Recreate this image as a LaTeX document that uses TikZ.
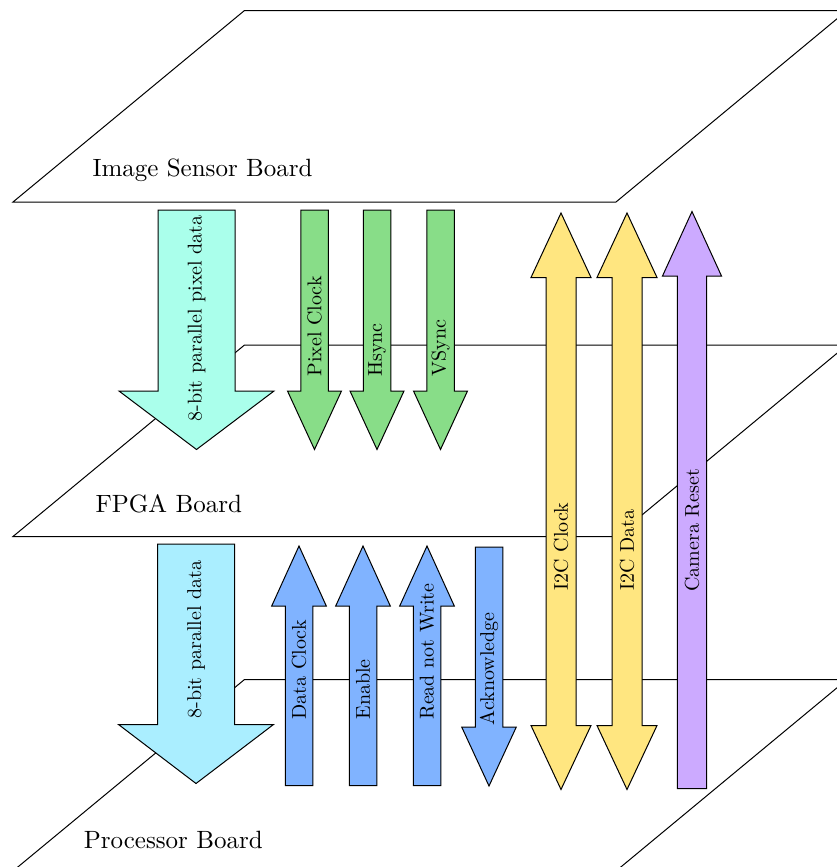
\documentclass[tikz,border=0pt]{standalone}
\usepackage{tikz}
\usetikzlibrary{positioning}

\definecolor{pixcyan}{RGB}{170,255,235}
\definecolor{datcyan}{RGB}{170,238,255}
\definecolor{syncgreen}{RGB}{136,221,136}
\definecolor{busblue}{RGB}{128,179,255}
\definecolor{i2cyellow}{RGB}{255,230,128}
\definecolor{resetpurple}{RGB}{204,170,255}

\tikzstyle{board} = [draw=black, fill=white]
\tikzstyle{boardname} = [anchor=base west, inner sep=0pt]
\tikzstyle{sig} = [draw=black, line join=miter]
\tikzstyle{signame} = [anchor=west, rotate=90, scale=0.8, inner sep=0pt]

% style, x, tail y, head base y, tip y, shaft half width, head half width
\newcommand{\sigarrow}[7]{%
  \draw[sig,#1] ({#2-#6},#3) -- ({#2+#6},#3) -- ({#2+#6},#4) -- ({#2+#7},#4)
    -- (#2,#5) -- ({#2-#7},#4) -- ({#2-#6},#4) -- cycle;}
% style, x, tip y, head base y, head base y, tip y, shaft half width, head half width
\newcommand{\sigboth}[8]{%
  \draw[sig,#1] (#2,#3) -- ({#2+#8},#4) -- ({#2+#7},#4) -- ({#2+#7},#5)
    -- ({#2+#8},#5) -- (#2,#6) -- ({#2-#8},#5) -- ({#2-#7},#5)
    -- ({#2-#7},#4) -- ({#2-#8},#4) -- cycle;}

\begin{document}
\begin{tikzpicture}[x=0.4pt, y=-0.4pt]
\useasboundingbox (0,0) rectangle (837,867);
\clip (0,0) rectangle (837,867);

% the three boards
\draw[board] (13,202) -- (616,202) -- (847,10.5) -- (244.5,10.5) -- cycle;
\draw[board] (13,536.5) -- (616,536.5) -- (847,345) -- (244.5,345) -- cycle;
\draw[board] (13,871) -- (616,871) -- (847,679.5) -- (244.5,679.5) -- cycle;
\node[boardname] (sensor) at (92,176.7) {Image Sensor Board};
\node[boardname] (fpga) at (95,512.3) {FPGA Board};
\node[boardname] (cpu) at (83.3,848.3) {Processor Board};

% sensor -> fpga
\sigarrow{fill=pixcyan}{196.5}{210}{391}{449.5}{38.5}{77.5}
\node[signame] (pixdata) at (196.5,422) {8-bit parallel pixel data};
\foreach \x/\name/\txt in {314.5/pclk/Pixel Clock, 377/hsync/Hsync, 440.5/vsync/VSync} {
  \sigarrow{fill=syncgreen}{\x}{210}{391}{449.5}{13.75}{27}
  \node[signame] (\name) at (\x,377) {\txt};
}

% fpga <-> processor
\sigarrow{fill=datcyan}{196}{544}{724.5}{783.5}{38.5}{77.5}
\node[signame] (pdata) at (196,719) {8-bit parallel data};
\foreach \x/\name/\txt in {299/dclk/Data Clock, 363/enable/Enable, 427/rnw/Read not Write} {
  \sigarrow{fill=busblue}{\x}{785.5}{606}{546}{13.75}{27.3}
  \node[signame] (\name) at (\x,720) {\txt};
}
\sigarrow{fill=busblue}{489}{547}{727}{786}{13.75}{27.3}
\node[signame] (ack) at (489,725.5) {Acknowledge};

% processor <-> sensor
\sigboth{fill=i2cyellow}{561}{213}{277.5}{725.5}{789.5}{15}{30}
\node[signame] (sclk) at (561,591) {I2C Clock};
\sigboth{fill=i2cyellow}{627}{213}{277.5}{725.5}{789.5}{15}{30}
\node[signame] (sdata) at (627,591) {I2C Data};
\sigarrow{fill=resetpurple}{692}{788.5}{276}{211.5}{14.7}{29.5}
\node[signame] (reset) at (692,592) {Camera Reset};
\end{tikzpicture}
\end{document}
